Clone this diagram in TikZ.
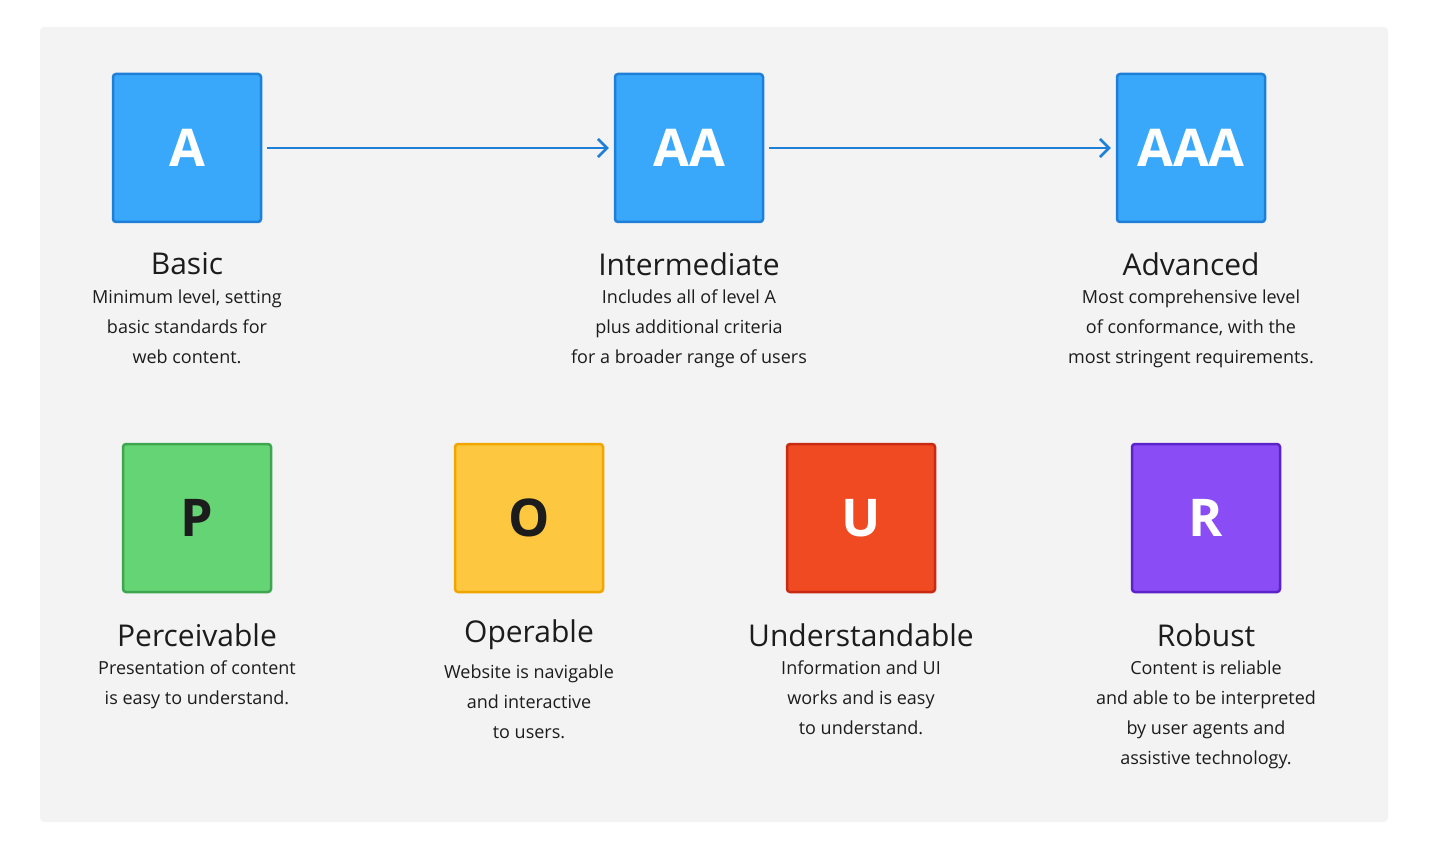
\documentclass[tikz,border=0pt]{standalone}
\usepackage{fontspec}
\setmainfont{Open Sans}
\usetikzlibrary{positioning,arrows.meta}
\definecolor{bgpanel}{HTML}{F3F3F3}
\definecolor{levelfill}{HTML}{3AA8FA}
\definecolor{leveldraw}{HTML}{1E7FD8}
\definecolor{pfill}{HTML}{65D475}
\definecolor{pdraw}{HTML}{3DA64F}
\definecolor{ofill}{HTML}{FDC840}
\definecolor{odraw}{HTML}{F0A500}
\definecolor{ufill}{HTML}{F04A23}
\definecolor{udraw}{HTML}{C82A12}
\definecolor{rfill}{HTML}{8A4DF5}
\definecolor{rdraw}{HTML}{5B23C9}
\definecolor{darktext}{HTML}{1C1C1C}
\tikzset{
  tile/.style={minimum size=148pt, inner sep=0pt, rounded corners=3pt, line width=2.5pt,
    font=\fontsize{52}{60}\selectfont\bfseries},
  heading/.style={font=\fontsize{30}{36}\selectfont, text=darktext, inner sep=0pt},
  blurb/.style={font=\fontsize{18}{30}\selectfont, text=darktext, align=center, inner sep=0pt},
  levelarrow/.style={draw=leveldraw, line width=2.5pt, -{Straight Barb[length=9pt,width=18pt,line width=2.5pt]}}
}
\begin{document}
\begin{tikzpicture}[x=1pt,y=-1pt]
	\useasboundingbox (0,0) rectangle (1430,850);
	\fill[bgpanel, rounded corners=4pt] (40,27) rectangle (1388,822);

	% conformance levels
	\node[tile, fill=levelfill, draw=leveldraw, text=white] (a) at (187,148) {A};
	\node[tile, fill=levelfill, draw=leveldraw, text=white] (aa) at (689,148) {AA};
	\node[tile, fill=levelfill, draw=leveldraw, text=white] (aaa) at (1191,148) {AAA};

	\node[heading] (basic) at (187,264) {Basic};
	\node[heading] (inter) at (689,264) {Intermediate};
	\node[heading] (adv) at (1191,264) {Advanced};

	\node[blurb, below=14pt of basic] {Minimum level, setting\\basic standards for\\web content.};
	\node[blurb, below=14pt of inter] {Includes all of level A\\plus additional criteria\\for a broader range of users};
	\node[blurb, below=14pt of adv] {Most comprehensive level\\of conformance, with the\\most stringent requirements.};

	\draw[levelarrow] ([xshift=5pt]a.east) -- ([xshift=-5pt]aa.west);
	\draw[levelarrow] ([xshift=5pt]aa.east) -- ([xshift=-5pt]aaa.west);

	% principles
	\node[tile, fill=pfill, draw=pdraw, text=darktext] (p) at (197,518) {P};
	\node[tile, fill=ofill, draw=odraw, text=darktext] (o) at (529,518) {O};
	\node[tile, fill=ufill, draw=udraw, text=white] (u) at (861,518) {U};
	\node[tile, fill=rfill, draw=rdraw, text=white] (r) at (1206,518) {R};

	\node[heading] (perc) at (197,635) {Perceivable};
	\node[heading] (oper) at (529,635) {Operable};
	\node[heading] (under) at (861,635) {Understandable};
	\node[heading] (rob) at (1206,635) {Robust};

	\node[blurb, below=14pt of perc] {Presentation of content\\is easy to understand.};
	\node[blurb, below=14pt of oper] {Website is navigable\\and interactive\\to users.};
	\node[blurb, below=14pt of under] {Information and UI\\works and is easy\\to understand.};
	\node[blurb, below=14pt of rob] {Content is reliable\\and able to be interpreted\\by user agents and\\assistive technology.};
\end{tikzpicture}
\end{document}
